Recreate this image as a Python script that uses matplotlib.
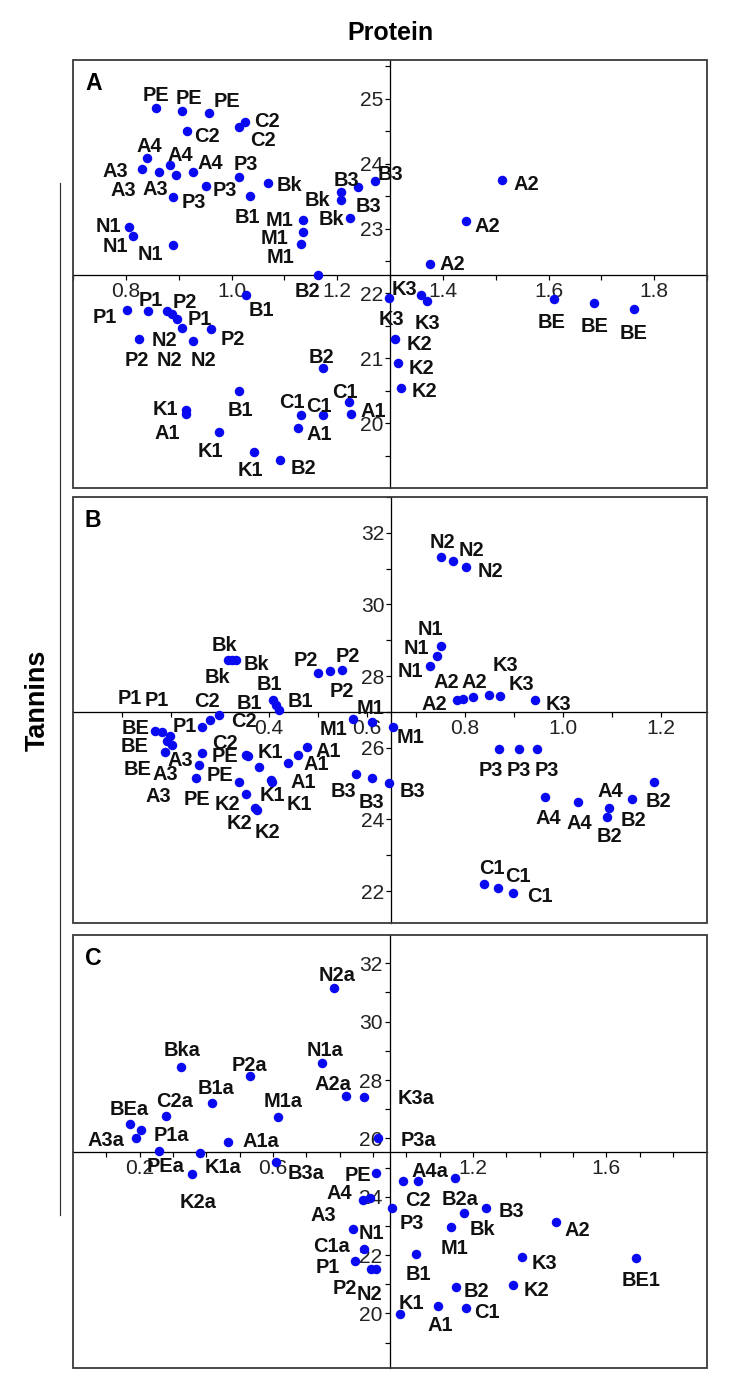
import matplotlib
matplotlib.use("Agg")
import matplotlib.pyplot as plt
from matplotlib.patches import Rectangle
from matplotlib.lines import Line2D

plt.rcParams['font.family'] = ['Liberation Sans', 'DejaVu Sans']

# ---------------- panel A
a_names = ['PE', 'PE', 'PE', 'C2', 'C2', 'C2', 'A4', 'A4', 'A4', 'A3', 'A3', 'A3',
           'P3', 'P3', 'P3', 'Bk', 'Bk', 'Bk', 'B3', 'B3', 'B3', 'B1', 'M1', 'M1', 'M1',
           'N1', 'N1', 'N1', 'B2', 'A2', 'A2', 'A2', 'P1', 'P1', 'P1', 'P2', 'P2', 'P2',
           'N2', 'N2', 'N2', 'B1', 'B1', 'B2', 'B2', 'K1', 'K1', 'K1', 'A1', 'A1', 'A1',
           'C1', 'C1', 'C1', 'K3', 'K3', 'K3', 'K2', 'K2', 'K2', 'BE', 'BE', 'BE']
a_x = [0.857, 0.906, 0.957, 0.916, 1.015, 1.026, 0.840, 0.884, 0.928, 0.830, 0.862, 0.895,
       1.015, 0.952, 0.890, 1.070, 1.207, 1.224, 1.207, 1.240, 1.271, 1.035, 1.136, 1.135, 1.132,
       0.806, 0.814, 0.890, 1.163, 1.512, 1.443, 1.375, 0.802, 0.842, 0.887, 0.878, 0.962, 0.825,
       0.897, 0.906, 0.928, 1.027, 1.015, 1.174, 1.092, 0.913, 0.977, 1.043, 0.913, 1.125, 1.227,
       1.131, 1.174, 1.223, 1.299, 1.359, 1.370, 1.310, 1.316, 1.321, 1.611, 1.687, 1.762]
a_y = [24.86, 24.82, 24.78, 24.50, 24.57, 24.65, 24.09, 23.98, 23.87, 23.92, 23.88, 23.83,
       23.80, 23.65, 23.49, 23.71, 23.44, 23.16, 23.56, 23.64, 23.73, 23.50, 23.13, 22.94, 22.76,
       23.02, 22.88, 22.74, 22.28, 23.75, 23.11, 22.46, 21.75, 21.73, 21.68, 21.73, 21.45, 21.30,
       21.61, 21.47, 21.27, 21.98, 20.50, 20.85, 19.43, 20.20, 19.87, 19.56, 20.14, 19.93, 20.14,
       20.13, 20.12, 20.32, 21.93, 21.97, 21.88, 21.30, 20.92, 20.54, 21.92, 21.85, 21.76]
a_off = [(0, 14), (7, 14), (18, 14), (20, -3), (24, -12), (22, 2), (2, 13), (10, 12), (17, 11),
         (-26, -1), (-35, -17), (-21, -13), (6, 14), (19, -2), (20, -4), (21, -1), (-23, 2), (-18, 1),
         (6, 14), (10, -17), (16, 9), (-3, -19), (-24, 2), (-28, -4), (-21, -11),
         (-21, 3), (-18, -8), (-23, -7), (-10, -14), (24, -3), (22, -3), (23, 1),
         (-22, -6), (3, 12), (28, -3), (18, 10), (21, -8), (-2, -20),
         (-8, -40), (-17, -11), (10, -18), (16, -14), (1, -18), (-2, 13), (23, -6),
         (-20, 3), (-9, -18), (-4, -17), (-18, -17), (22, -5), (22, 5),
         (-9, 14), (-5, 11), (-4, 12), (2, -20), (-17, 8), (0, -20), (24, -4), (23, -3), (23, -1),
         (-3, -22), (0, -21), (-1, -22)]

# ---------------- panel B
b_names = ['N2', 'N2', 'N2', 'N1', 'N1', 'N1', 'A2', 'A2', 'A2', 'K3', 'K3', 'K3',
           'M1', 'M1', 'M1', 'P3', 'P3', 'P3', 'A4', 'A4', 'A4', 'B2', 'B2', 'B2',
           'C1', 'C1', 'C1', 'B3', 'B3', 'B3', 'A1', 'A1', 'A1', 'Bk', 'Bk', 'Bk',
           'P2', 'P2', 'P2', 'B1', 'B1', 'B1', 'C2', 'C2', 'C2', 'P1', 'P1', 'P1',
           'BE', 'BE', 'BE', 'A3', 'A3', 'A3', 'PE', 'PE', 'PE', 'K1', 'K1', 'K1', 'K2', 'K2', 'K2']
b_x = [0.751, 0.776, 0.802, 0.751, 0.742, 0.729, 0.783, 0.795, 0.816, 0.850, 0.871, 0.943,
       0.572, 0.611, 0.654, 0.870, 0.911, 0.948, 0.963, 1.030, 1.094, 1.089, 1.140, 1.186,
       0.839, 0.868, 0.899, 0.578, 0.610, 0.645, 0.478, 0.460, 0.439, 0.316, 0.324, 0.333,
       0.501, 0.524, 0.550, 0.408, 0.414, 0.421, 0.299, 0.280, 0.263, 0.167, 0.182, 0.198,
       0.192, 0.202, 0.188, 0.263, 0.257, 0.251, 0.353, 0.380, 0.339, 0.357, 0.404, 0.406,
       0.353, 0.371, 0.376]
b_y = [31.32, 31.20, 31.06, 28.84, 28.57, 28.29, 27.34, 27.36, 27.41, 27.47, 27.45, 27.34,
       26.80, 26.71, 26.57, 25.96, 25.96, 25.96, 24.62, 24.48, 24.33, 24.08, 24.56, 25.05,
       22.19, 22.09, 21.95, 25.26, 25.15, 25.01, 26.03, 25.80, 25.57, 28.45, 28.45, 28.45,
       28.10, 28.13, 28.17, 27.34, 27.20, 27.06, 26.92, 26.78, 26.59, 26.47, 26.44, 26.33,
       26.19, 26.08, 25.88, 25.85, 25.52, 25.16, 25.80, 25.46, 25.04, 25.77, 25.10, 25.04,
       24.71, 24.32, 24.26]
b_off = [(1, 17), (18, 13), (24, -3), (-11, 19), (-20, 9), (-20, -4), (-22, -3), (-16, 19), (2, 17),
         (16, 32), (22, 13), (23, -3), (-20, -8), (-2, 16), (17, -8), (-8, -19), (-1, -19), (9, -19),
         (3, -19), (2, -19), (1, 18), (3, -18), (2, -19), (4, -18), (8, 18), (20, 13), (26, -2),
         (-13, -15), (0, -22), (23, -6), (21, -3), (18, -8), (15, -17), (-3, 17), (25, -2), (-19, -15),
         (-13, 14), (18, 17), (-1, -19), (-4, 17), (-26, 3), (21, 10), (24, -5), (-3, 20), (23, -15),
         (-25, 34), (-5, 34), (15, 11), (-32, 14), (-37, 0), (-28, -15),
         (-22, -5), (-34, -8), (-38, -17), (-21, 0), (-39, -6), (-42, -15),
         (22, 6), (1, -13), (27, -20), (-19, -8), (-15, -14), (10, -20)]

# ---------------- panel C
c_names = ['N2a', 'Bka', 'N1a', 'P2a', 'A2a', 'K3a', 'B1a', 'C2a', 'M1a', 'BEa', 'P1a', 'A3a',
           'A1a', 'P3a', 'PEa', 'K1a', 'K2a', 'B3a', 'PE', 'A4', 'A3', 'N1', 'C1a', 'P1', 'P2',
           'N2', 'P3', 'C2', 'A4a', 'B2a', 'B3', 'Bk', 'M1', 'A2', 'B1', 'K3', 'BE1', 'K2', 'B2',
           'A1', 'C1', 'K1']
c_x = [0.782, 0.323, 0.747, 0.530, 0.820, 0.874, 0.418, 0.280, 0.615, 0.170, 0.203, 0.190,
       0.465, 0.915, 0.258, 0.380, 0.358, 0.610, 0.908, 0.890, 0.870, 0.840, 0.872, 0.845, 0.895,
       0.910, 0.958, 0.990, 1.035, 1.145, 1.240, 1.172, 1.135, 1.448, 1.030, 1.348, 1.690, 1.320,
       1.148, 1.095, 1.178, 0.982]
c_y = [31.16, 28.46, 28.57, 28.15, 27.45, 27.43, 27.20, 26.78, 26.74, 26.49, 26.29, 26.00,
       25.88, 26.00, 25.58, 25.49, 24.77, 25.20, 24.80, 23.94, 23.89, 22.88, 22.21, 21.80, 21.51,
       21.51, 23.60, 24.55, 24.55, 24.65, 23.62, 23.43, 22.95, 23.12, 22.03, 21.94, 21.89, 20.99,
       20.91, 20.26, 20.19, 19.98]
c_off = [(3, 14), (1, 18), (3, 15), (0, 12), (-13, 14), (52, 0), (4, 17), (8, 16), (5, 17), (0, 17),
         (31, -4), (-30, 0), (33, 2), (40, 0), (7, -14), (23, -12), (6, -26), (30, -10), (-18, 0),
         (-30, 7), (-40, -14), (18, -2), (-32, 4), (-27, -5), (-27, -17), (-7, -23), (19, -13),
         (15, -18), (12, 11), (5, -20), (25, -2), (19, -14), (3, -19), (22, -6), (2, -18), (22, -5),
         (5, -20), (23, -4), (21, -3), (2, -18), (21, -3), (11, 13)]

W, H = 730, 1389
fig = plt.figure(figsize=(W / 72, H / 72), dpi=72)
fig.patch.set_facecolor('white')


def draw_panel(top, bottom, letter, names, xs, ys, offs, xlim, ylim, xcross, ycross,
               xmaj, xlab, xmin, ymaj, ylab, ymin):
    hpx = bottom - top
    ax = fig.add_axes([73 / W, 1 - bottom / H, 634 / W, hpx / H])
    ax.set_xlim(xlim)
    ax.set_ylim(ylim)
    ax.spines['top'].set_visible(False)
    ax.spines['right'].set_visible(False)
    ax.spines['left'].set_position(('data', xcross))
    ax.spines['bottom'].set_position(('data', ycross))
    for s in ['left', 'bottom']:
        ax.spines[s].set_linewidth(1.3)
    ax.set_xticks(xmaj)
    ax.set_xticklabels(xlab)
    ax.set_xticks(xmin, minor=True)
    ax.set_yticks(ymaj)
    ax.set_yticklabels(ylab)
    ax.set_yticks(ymin, minor=True)
    ax.tick_params(which='both', direction='out', length=5, width=1.2, labelsize=21, pad=2,
                   labelcolor='#222222')
    ax.add_patch(Rectangle((0, 0), 1, 1, transform=ax.transAxes, fill=False,
                           lw=1.8, ec='#3a3a3a', clip_on=False, zorder=5))
    ax.plot(xs, ys, 'o', color='#0a0af0', ms=9.5, mec='none', zorder=3, clip_on=False)
    for n, x, y, (dx, dy) in zip(names, xs, ys, offs):
        ax.annotate(n, (x, y), xytext=(dx, dy), textcoords='offset points',
                    ha='center', va='center_baseline', fontsize=20, fontweight='bold',
                    color='#111111', zorder=4)
    ax.text(12 / 634, 1 - 12 / hpx, letter, transform=ax.transAxes, fontsize=23,
            fontweight='bold', ha='left', va='top')
    return ax


def frange(a, b, s):
    n = int(round((b - a) / s))
    return [round(a + i * s, 3) for i in range(n + 1)]


# A
xa = frange(0.8, 1.8, 0.2)
ya = frange(20, 25, 1)
draw_panel(60, 488, 'A', a_names, a_x, a_y, a_off, (0.7, 1.9), (19.0, 25.6), 1.3, 22.28,
           xa, ['%.1f' % v for v in xa], frange(0.7, 1.9, 0.1),
           ya, ['%d' % v for v in ya], frange(19.5, 25.5, 0.5))

# B
xb = frange(0.2, 1.2, 0.2)
yb = frange(22, 32, 2)
draw_panel(497, 923, 'B', b_names, b_x, b_y, b_off, (0.0, 1.294), (21.11, 33.0), 0.65, 27.0,
           xb, ['' if v < 0.3 else '%.1f' % v for v in xb], frange(0.1, 1.2, 0.1),
           yb, ['%d' % v for v in yb], frange(22, 33, 1))

# C
xc = frange(0.2, 1.8, 0.2)
yc = frange(20, 32, 2)
shown_c = [0.2, 0.6, 1.2, 1.6]
draw_panel(935, 1368, 'C', c_names, c_x, c_y, c_off, (0.0, 1.902), (18.13, 32.97), 0.95, 25.54,
           xc, ['%.1f' % v if v in shown_c else '' for v in xc], frange(0.1, 1.8, 0.1),
           yc, ['%d' % v for v in yc], frange(19, 32, 1))

fig.text(390 / W, 1 - 33 / H, 'Protein', ha='center', va='center', fontsize=25, fontweight='bold')
fig.text(38 / W, 1 - 700 / H, 'Tannins', ha='center', va='center', rotation=90,
         fontsize=27, fontweight='bold')
fig.add_artist(Line2D([60 / W, 60 / W], [1 - 183 / H, 1 - 1215 / H], transform=fig.transFigure,
                      color='#333333', lw=1.2))

fig.savefig('out.png', dpi=72, facecolor='white')
